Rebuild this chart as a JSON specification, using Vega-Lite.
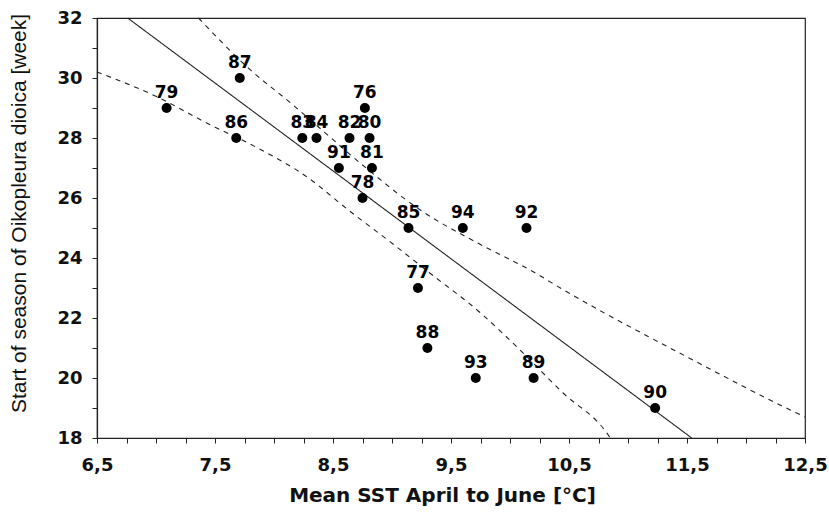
{
  "$schema": "https://vega.github.io/schema/vega-lite/v6.json",
  "width": 708,
  "height": 420,
  "autosize": {"type": "none"},
  "padding": {"left": 97, "top": 18, "right": 24, "bottom": 75},
  "background": "white",
  "config": {
    "view": {"stroke": "#222", "strokeWidth": 1.2},
    "axis": {"grid": false, "domainColor": "#222", "domainWidth": 1.2, "tickColor": "#222", "tickSize": 5, "labelColor": "#111", "titleColor": "#111"}
  },
  "datasets": {
    "points": [
      {"year": "76", "sst": 8.77, "week": 29},
      {"year": "77", "sst": 9.22, "week": 23},
      {"year": "78", "sst": 8.75, "week": 26},
      {"year": "79", "sst": 7.09, "week": 29},
      {"year": "80", "sst": 8.81, "week": 28},
      {"year": "81", "sst": 8.83, "week": 27},
      {"year": "82", "sst": 8.64, "week": 28},
      {"year": "83", "sst": 8.24, "week": 28},
      {"year": "84", "sst": 8.36, "week": 28},
      {"year": "85", "sst": 9.14, "week": 25},
      {"year": "86", "sst": 7.68, "week": 28},
      {"year": "87", "sst": 7.71, "week": 30},
      {"year": "88", "sst": 9.30, "week": 21},
      {"year": "89", "sst": 10.20, "week": 20},
      {"year": "90", "sst": 11.23, "week": 19},
      {"year": "91", "sst": 8.55, "week": 27},
      {"year": "92", "sst": 10.14, "week": 25},
      {"year": "93", "sst": 9.71, "week": 20},
      {"year": "94", "sst": 9.60, "week": 25}
    ],
    "lines": [
      {"series": "fit", "sst": 6.76, "week": 32},
      {"series": "fit", "sst": 11.54, "week": 18},
      {"series": "upper", "sst": 7.36, "week": 32},
      {"series": "upper", "sst": 7.80, "week": 30.27},
      {"series": "upper", "sst": 8.14, "week": 29.17},
      {"series": "upper", "sst": 8.42, "week": 28.22},
      {"series": "upper", "sst": 8.75, "week": 27.1},
      {"series": "upper", "sst": 9.24, "week": 25.6},
      {"series": "upper", "sst": 9.75, "week": 24.45},
      {"series": "upper", "sst": 10.17, "week": 23.6},
      {"series": "upper", "sst": 10.47, "week": 22.9},
      {"series": "upper", "sst": 11.55, "week": 20.6},
      {"series": "upper", "sst": 12.43, "week": 18.83},
      {"series": "upper", "sst": 12.5, "week": 18.7},
      {"series": "lower", "sst": 6.5, "week": 30.2},
      {"series": "lower", "sst": 7.01, "week": 29.37},
      {"series": "lower", "sst": 7.43, "week": 28.5},
      {"series": "lower", "sst": 7.86, "week": 27.67},
      {"series": "lower", "sst": 8.28, "week": 26.7},
      {"series": "lower", "sst": 8.63, "week": 25.6},
      {"series": "lower", "sst": 9.04, "week": 24.37},
      {"series": "lower", "sst": 9.32, "week": 23.5},
      {"series": "lower", "sst": 9.75, "week": 22.17},
      {"series": "lower", "sst": 10.06, "week": 21.03},
      {"series": "lower", "sst": 10.45, "week": 19.5},
      {"series": "lower", "sst": 10.82, "week": 18.17},
      {"series": "lower", "sst": 10.85, "week": 18.0}
    ]
  },
  "encoding": {
    "x": {
      "field": "sst", "type": "quantitative",
      "scale": {"domain": [6.5, 12.5], "nice": false, "zero": false},
      "axis": {
        "title": "Mean SST April to June [°C]",
        "values": [6.5, 6.75, 7, 7.25, 7.5, 7.75, 8, 8.25, 8.5, 8.75, 9, 9.25, 9.5, 9.75, 10, 10.25, 10.5, 10.75, 11, 11.25, 11.5, 11.75, 12, 12.25, 12.5],
        "labelExpr": "(datum.value * 2) % 2 == 1 ? replace(format(datum.value, '.1f'), '.', ',') : ''",
        "labelOverlap": false,
        "labelFlush": false,
        "labelPadding": 13,
        "labelFont": "DejaVu Sans", "labelFontWeight": "bold", "labelFontSize": 18,
        "titleFont": "DejaVu Sans", "titleFontWeight": "bold", "titleFontSize": 20,
        "titlePadding": 11,
        "titleX": 345
      }
    },
    "y": {
      "field": "week", "type": "quantitative",
      "scale": {"domain": [18, 32], "nice": false, "zero": false},
      "axis": {
        "title": "Start of season of Oikopleura dioica [week]",
        "values": [18, 19, 20, 21, 22, 23, 24, 25, 26, 27, 28, 29, 30, 31, 32],
        "labelExpr": "datum.value % 2 == 0 ? datum.label : ''",
        "labelOverlap": false,
        "labelFlush": false,
        "labelPadding": 10,
        "labelFont": "DejaVu Sans", "labelFontWeight": "bold", "labelFontSize": 18,
        "titleFont": "Liberation Sans", "titleFontWeight": "normal", "titleFontSize": 21,
        "titlePadding": 27,
        "titleY": 195
      }
    }
  },
  "layer": [
    {
      "data": {"name": "lines"},
      "mark": {"type": "line", "color": "#222", "strokeWidth": 1.1, "interpolate": "monotone"},
      "encoding": {
        "detail": {"field": "series"},
        "strokeDash": {
          "field": "series", "type": "nominal",
          "scale": {"domain": ["fit", "upper", "lower"], "range": [[1, 0], [5, 5], [5, 5]]},
          "legend": null
        }
      }
    },
    {
      "data": {"name": "points"},
      "mark": {"type": "circle", "color": "#000", "opacity": 1, "size": 100}
    },
    {
      "data": {"name": "points"},
      "mark": {"type": "text", "font": "DejaVu Sans", "fontWeight": "bold", "fontSize": 17, "baseline": "alphabetic", "dy": -10, "color": "#000"},
      "encoding": {"text": {"field": "year"}}
    }
  ]
}
